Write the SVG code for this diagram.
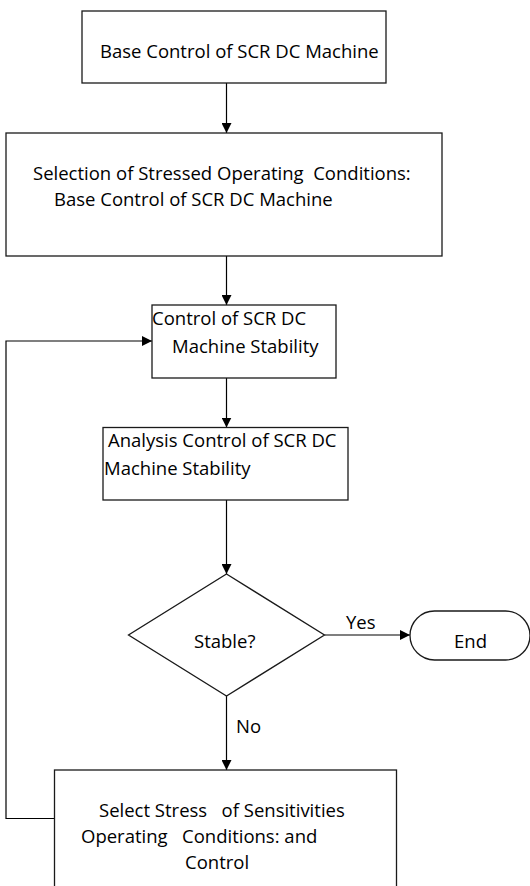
<svg xmlns="http://www.w3.org/2000/svg" width="530" height="886" viewBox="0 0 530 886">
  <style>
    .box { fill: #fff; stroke: #1a1a1a; stroke-width: 1.3; }
    .wire { fill: none; stroke: #000; stroke-width: 1.2; }
    text { font-family: "Open Sans", "Liberation Sans", sans-serif; font-size: 18.5px; fill: #000; white-space: pre; }
  </style>
  <defs>
    <marker id="head" viewBox="0 0 10 10" refX="10" refY="5" markerWidth="10" markerHeight="10" markerUnits="userSpaceOnUse" orient="auto">
      <path d="M0,0 L10,5 L0,10 Z" fill="#000"/>
    </marker>
  </defs>

  <rect width="530" height="886" fill="#fff"/>

  <!-- connectors -->
  <g id="connectors">
    <line class="wire" x1="226.5" y1="83" x2="226.5" y2="133" marker-end="url(#head)"/>
    <line class="wire" x1="226.5" y1="256" x2="226.5" y2="305" marker-end="url(#head)"/>
    <line class="wire" x1="226.5" y1="378" x2="226.5" y2="427.5" marker-end="url(#head)"/>
    <line class="wire" x1="226.5" y1="500" x2="226.5" y2="574" marker-end="url(#head)"/>
    <line class="wire" x1="226.5" y1="696" x2="226.5" y2="770" marker-end="url(#head)"/>
    <line class="wire" x1="324.5" y1="635" x2="410" y2="635" marker-end="url(#head)"/>
    <polyline class="wire" points="54.5,818.5 6,818.5 6,341 152,341" marker-end="url(#head)"/>
    <text x="346" y="629">Yes</text>
    <text x="236" y="733">No</text>
  </g>

  <!-- nodes -->
  <g id="base-control">
    <rect class="box" x="82" y="11" width="304" height="72"/>
    <text x="100" y="58">Base Control of SCR DC Machine</text>
  </g>

  <g id="select-conditions">
    <rect class="box" x="6" y="133" width="436" height="123"/>
    <text x="33" y="180">Selection of Stressed Operating  Conditions:</text>
    <text x="54" y="206">Base Control of SCR DC Machine</text>
  </g>

  <g id="stability-control">
    <rect class="box" x="152" y="305" width="184" height="73"/>
    <text x="152" y="325">Control of SCR DC</text>
    <text x="172" y="353">Machine Stability</text>
  </g>

  <g id="stability-analysis">
    <rect class="box" x="103" y="427.5" width="245" height="72.5"/>
    <text x="108" y="447">Analysis Control of SCR DC</text>
    <text x="104" y="475">Machine Stability</text>
  </g>

  <g id="stable-check">
    <polygon class="box" points="226.5,574 324.5,635 226.5,696 128.5,635"/>
    <text x="194" y="648">Stable?</text>
  </g>

  <g id="end">
    <rect class="box" x="410" y="611" width="120" height="49" rx="24.5" ry="24.5"/>
    <text x="454" y="648">End</text>
  </g>

  <g id="select-stress">
    <rect class="box" x="54.5" y="770" width="342" height="130"/>
    <text x="99" y="817">Select Stress   of Sensitivities</text>
    <text x="81" y="843">Operating   Conditions: and</text>
    <text x="185" y="869">Control</text>
  </g>
</svg>
